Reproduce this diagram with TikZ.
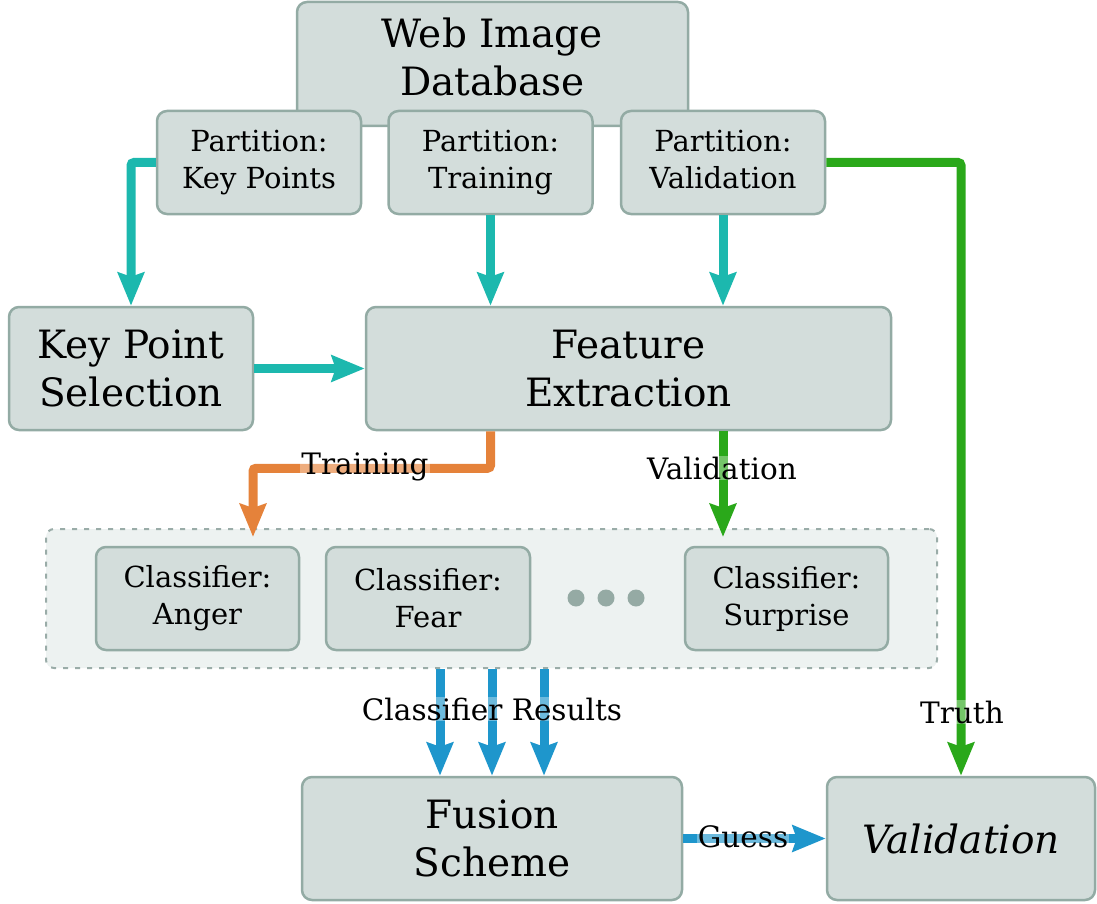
\documentclass[tikz,border=0pt]{standalone}
\usepackage{fontspec}
\setmainfont{DejaVu Serif}
\usetikzlibrary{arrows.meta}
\definecolor{boxfill}{HTML}{D3DDDB}
\definecolor{boxline}{HTML}{93ABA4}
\definecolor{grpfill}{HTML}{EDF2F1}
\definecolor{grpline}{HTML}{9AACA8}
\definecolor{dotcol}{HTML}{95AAA4}
\definecolor{cteal}{HTML}{1CB8AE}
\definecolor{corange}{HTML}{E5823A}
\definecolor{cgreen}{HTML}{2AA81A}
\definecolor{cblue}{HTML}{1E96CC}
\tikzset{
  box/.style={draw=boxline, fill=boxfill, line width=2.5pt, rounded corners=10pt,
    align=center, inner sep=0pt},
  big/.style={font=\fontsize{39}{48}\selectfont, align=center},
  small/.style={font=\fontsize{29}{37}\selectfont, align=center},
  flow/.style={line width=9pt, -{Stealth[length=33pt,width=26pt,inset=4pt]}, rounded corners=3pt},
  lbl/.style={font=\fontsize{29.5}{34}\selectfont, fill=white, fill opacity=0.35, text opacity=1, inner sep=1pt},
  grpbox/.style={draw=grpline, fill=grpfill, line width=2pt, rounded corners=8pt, dash pattern=on 5pt off 7pt},
  dot/.style={circle, fill=dotcol, minimum size=17pt, inner sep=0pt}
}
\begin{document}
\begin{tikzpicture}[x=1pt,y=-1pt]
\useasboundingbox (0,0) rectangle (1097,904);
% database
\node[box, minimum width=391pt, minimum height=124pt] (db) at (492.5,64) {};
\node[big] (dbt) at (492.5,57) {Web Image\\Database};
% partitions
\node[box, small, minimum width=204pt, minimum height=103pt] (pkp) at (259,162.5) {Partition:\\Key Points};
\node[box, small, minimum width=204pt, minimum height=103pt] (ptr) at (490.5,162.5) {Partition:\\Training};
\node[box, small, minimum width=204pt, minimum height=103pt] (pva) at (723,162.5) {Partition:\\Validation\vphantom{g}};
% second row
\node[box, big, minimum width=244pt, minimum height=123pt] (kps) at (131,368.5) {Key Point\\Selection};
\node[box, big, minimum width=525pt, minimum height=123pt] (fe) at (628.5,368.5) {Feature\\Extraction};
% classifier group
\node[grpbox, minimum width=891pt, minimum height=139pt] (grp) at (491.5,598.5) {};
\node[box, small, minimum width=203pt, minimum height=103pt] (ca) at (197.5,598.5) {Classifier:\\Anger};
\node[box, small, minimum width=204pt, minimum height=103pt] (cf) at (428,598.5) {Classifier:\\Fear};
\node[box, small, minimum width=203pt, minimum height=103pt] (cs) at (786.5,598.5) {Classifier:\\Surprise};
\node[dot] (d1) at (576,598) {};
\node[dot] (d2) at (606,598) {};
\node[dot] (d3) at (636,598) {};
% bottom row
\node[box, big, minimum width=380pt, minimum height=123pt] (fus) at (492,838.5) {Fusion\\Scheme};
\node[box, big, minimum width=268pt, minimum height=123pt] (val) at (961,838.5) {\itshape Validation};
% connectors
\coordinate (tA) at (253,537);
\coordinate (tV) at (723,537);
\draw[flow, cteal] (pkp.west) -| (kps.north);
\draw[flow, cteal] (ptr.south) -- (ptr.south |- fe.north);
\draw[flow, cteal] (pva.south) -- (pva.south |- fe.north);
\draw[flow, cteal] (kps.east) -- (fe.west);
\draw[flow, corange] (fe.south -| ptr.south) -- ++(0,37) -| (tA);
\draw[flow, cgreen] (fe.south -| pva.south) -- (tV);
\draw[flow, cgreen] (pva.east) -| (val.north);
\foreach \dx in {-52,0,52}
  \draw[flow, cblue] ([xshift=\dx pt]grp.south -| fus.north) -- ([xshift=\dx pt]fus.north);
\draw[flow, cblue] (fus.east) -- (val.west);
% labels
\node[lbl] (lt) at (365,467) {Training};
\node[lbl] (lv) at (722,468) {Validation};
\node[lbl] (ltr) at (962,712) {Truth};
\node[lbl] (lcr) at (492,709) {Classifier Results};
\node[lbl] (lg) at (743,837) {Guess};
\end{tikzpicture}
\end{document}
